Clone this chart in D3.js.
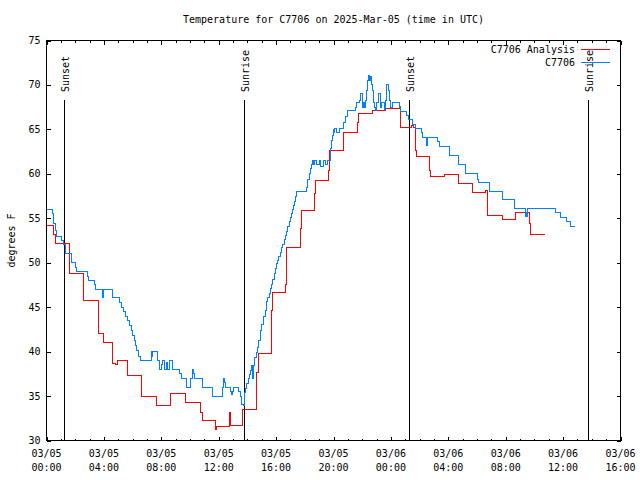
<!DOCTYPE html>
<html><head><meta charset="utf-8">
<script src="https://cdn.jsdelivr.net/npm/d3@7"></script>
<style>
body{margin:0;background:#fff}
svg{display:block}
text{font-family:"DejaVu Sans Mono",monospace;font-size:10px;fill:#000}
</style>
</head><body><svg id="c" width="640" height="480"></svg>
<script>
const title = "Temperature for C7706 on 2025-Mar-05 (time in UTC)";
const yLabel = "degrees F";
const seriesNames = ["C7706 Analysis", "C7706"];
const seriesColors = ["#ff0000", "#0080ff"];

// hours since 2025-03-05 00:00 UTC
const redHours = [0,0.5,0.6,1.58,2.6,3.6,3.95,4.62,4.8,4.95,5.62,6.62,7.65,8.65,9.68,10.72,10.85,11.8,11.88,12.72,12.8,13.68,14.65,14.78,15.65,15.72,16.65,16.75,17.68,17.74,18.68,18.74,19.68,19.75,20.7,21.68,21.75,22.72,23.6,24.68,25.45,25.58,25.7,25.76,26.68,26.78,27.75,28.72,29.67,30.62,30.72,31.75,32.67,33.68,33.74,34.72];
const redTemps = [54.2,53.2,52.2,48.75,45.8,42.0,41.06,38.7,38.55,39.0,37.3,35.0,33.9,35.3,34.3,33.2,32.3,31.2,31.6,33.2,31.7,33.5,37.7,39.8,44.6,46.6,47.5,51.75,53.8,55.9,57.75,59.3,60.4,62.6,64.7,65.8,66.8,67.1,67.3,65.25,65.4,65.25,62.6,62.0,60.4,59.7,59.9,58.9,57.95,58.1,55.3,54.9,55.7,54.4,53.2,53.2];

const blueHours = [0,0.4,0.5,0.6,0.67,1.02,1.15,1.3,1.35,1.72,2.02,2.12,2.88,2.95,3.35,3.4,3.9,4.0,4.6,5.1,5.2,5.4,5.5,5.65,5.78,5.9,6.0,6.1,6.2,6.3,6.42,6.54,7.31,7.36,7.42,7.77,7.9,8.0,8.1,8.2,8.33,8.45,8.57,8.75,9.27,9.4,9.78,10.02,10.15,10.25,10.32,10.85,11.6,12.25,12.35,12.42,12.5,12.82,12.9,12.95,13.05,13.35,13.5,13.6,13.7,13.77,13.85,13.95,14.05,14.15,14.22,14.3,14.35,14.4,14.5,14.6,14.7,14.8,14.9,15.0,15.1,15.25,15.35,15.42,15.52,15.62,15.7,15.78,15.87,15.95,16.03,16.12,16.2,16.3,16.37,16.45,16.57,16.65,16.73,16.82,16.9,16.97,17.05,17.13,17.2,17.27,17.35,17.42,18.1,18.17,18.22,18.3,18.37,18.45,18.55,18.62,18.7,18.85,19.0,19.1,19.3,19.45,19.6,19.82,19.88,19.95,20.0,20.05,20.1,20.2,20.45,20.73,20.85,20.95,21.5,21.62,21.8,21.9,22.05,22.12,22.18,22.24,22.3,22.38,22.46,22.52,22.56,22.62,22.7,22.78,22.85,22.92,23.0,23.15,23.25,23.35,23.55,23.65,23.72,23.8,23.88,24.0,24.1,24.6,24.64,24.7,25.12,25.2,25.5,25.68,26.12,26.2,26.48,26.55,27.22,27.38,28.05,28.68,29.2,30.0,30.1,30.85,31.78,32.58,33.35,33.42,33.48,33.55,35.5,35.8,36.25,36.55,36.8];
const blueTemps = [56.0,55.5,54.4,53.6,53.0,52.5,52.0,51.5,51.0,50.0,49.5,49.0,48.5,48.0,47.5,47.0,46.1,47.0,46.1,45.5,45.0,44.5,44.0,43.5,42.9,42.4,41.8,41.3,40.7,40.1,39.5,39.0,40.0,39.5,40.0,39.0,38.0,38.5,39.0,38.0,38.8,38.0,39.0,38.0,37.5,37.0,36.0,37.0,38.0,37.5,37.0,36.0,35.0,36.0,37.0,36.5,36.0,35.5,35.2,35.5,36.0,35.5,35.0,34.1,33.9,35.4,35.9,36.4,37.0,37.4,37.9,38.4,37.0,38.4,39.3,39.9,40.5,41.3,42.4,43.1,44.0,44.6,45.6,46.1,46.5,47.1,47.6,48.1,48.75,49.3,49.9,50.3,50.7,51.2,51.7,52.1,52.6,53.1,53.55,54.1,54.6,55.05,55.5,56.0,56.4,56.9,57.45,58.0,58.5,59.0,59.4,60.0,60.6,61.05,61.5,61.0,61.5,61.0,61.5,60.8,61.5,61.0,61.5,62.9,63.75,64.3,65.0,64.7,65.1,64.6,65.06,65.8,66.4,67.1,67.5,68.06,68.3,69.0,67.5,68.06,67.5,68.3,69.4,70.5,71.06,70.5,70.9,70.1,69.4,68.06,67.5,67.1,68.06,69.0,67.5,68.06,67.2,68.25,70.0,69.4,68.25,67.5,68.06,67.5,67.6,67.05,66.6,66.08,65.6,65.06,64.7,64.1,63.2,64.05,63.6,63.1,62.06,61.05,60.0,59.4,59.06,58.05,57.1,56.15,55.2,55.6,55.2,56.1,55.6,55.1,54.6,54.1,54.1];

const sunHours = [1.23, 13.77, 25.27, 37.76];
const sunLabels = ["Sunset", "Sunrise", "Sunset", "Sunrise"];

const yTicks = [30,35,40,45,50,55,60,65,70,75];
const xMajorHours = [0,4,8,12,16,20,24,28,32,36,40];
const xTickDates = ["03/05","03/05","03/05","03/05","03/05","03/05","03/06","03/06","03/06","03/06","03/06"];
const xTickTimes = ["00:00","04:00","08:00","12:00","16:00","20:00","00:00","04:00","08:00","12:00","16:00"];
const xMinorHours = d3.range(0, 41);

const L = 46.5, R = 620.5, T = 40.5, B = 440.5;
const svg = d3.select("#c");
const x = d3.scaleLinear().domain([0, 40]).range([L, R]);
const y = d3.scaleLinear().domain([30, 75]).range([B, T]);

// frame
svg.append("rect").attr("x", L).attr("y", T).attr("width", R - L).attr("height", B - T)
  .attr("fill", "none").attr("stroke", "#000").attr("shape-rendering", "crispEdges");

function tickAxis(axis, tx, ty, size) {
  const g = svg.append("g").attr("transform", `translate(${tx},${ty})`)
    .call(axis.tickSizeInner(-size).tickSizeOuter(0).tickFormat(""));
  g.select(".domain").remove();
  g.selectAll("line").attr("shape-rendering", "crispEdges");
  g.selectAll("text").remove();
  return g;
}
tickAxis(d3.axisBottom(x).tickValues(xMinorHours), 0, B, 2);
tickAxis(d3.axisBottom(x).tickValues(xMajorHours), 0, B, 4);
tickAxis(d3.axisTop(x).tickValues(xMinorHours), 0, T, 2);
tickAxis(d3.axisTop(x).tickValues(xMajorHours), 0, T, 4);
tickAxis(d3.axisLeft(y).tickValues(yTicks), L, 0, 4);
tickAxis(d3.axisRight(y).tickValues(yTicks), R, 0, 4);

// y labels
svg.append("g").selectAll("text").data(yTicks).join("text")
  .attr("x", L - 6).attr("y", d => y(d)).attr("dy", "0.35em")
  .attr("text-anchor", "end").text(d => d);

// x labels
const xl = svg.append("g").selectAll("g").data(xMajorHours).join("g");
xl.append("text").attr("x", d => x(d)).attr("y", 453).attr("dy", "0.35em")
  .attr("text-anchor", "middle").text((d, i) => xTickDates[i]);
xl.append("text").attr("x", d => x(d)).attr("y", 467).attr("dy", "0.35em")
  .attr("text-anchor", "middle").text((d, i) => xTickTimes[i]);

// title & y label
svg.append("text").attr("x", (L + R) / 2).attr("y", 19).attr("dy", "0.35em")
  .attr("text-anchor", "middle").text(title);
svg.append("text").attr("transform", `translate(11,${(T + B) / 2}) rotate(-90)`)
  .attr("dy", "0.35em").attr("text-anchor", "middle").text(yLabel);

// sun lines
const sg = svg.append("g");
sg.selectAll("line").data(sunHours).join("line")
  .attr("x1", d => Math.round(x(d)) + 0.5).attr("x2", d => Math.round(x(d)) + 0.5)
  .attr("y1", T + 59).attr("y2", B).attr("stroke", "#000").attr("shape-rendering", "crispEdges");
sg.selectAll("text").data(sunHours).join("text")
  .attr("transform", d => `translate(${Math.round(x(d)) + 1.5},92) rotate(-90)`)
  .attr("dy", "0.35em").attr("text-anchor", "start").text((d, i) => sunLabels[i]);

// series
const line = d3.line().x(d => x(d[0])).y(d => y(d[1])).curve(d3.curveStepAfter);
const redData = d3.zip(redHours, redTemps);
const blueData = d3.zip(blueHours, blueTemps);
svg.append("path").datum(redData).attr("d", line).attr("fill", "none")
  .attr("stroke", seriesColors[0]).attr("stroke-width", 1).attr("shape-rendering", "crispEdges");
svg.append("path").datum(blueData).attr("d", line).attr("fill", "none")
  .attr("stroke", seriesColors[1]).attr("stroke-width", 1).attr("shape-rendering", "crispEdges");

// legend
const lg = svg.append("g");
[0, 1].forEach(i => {
  const ly = 49 + i * 13;
  lg.append("text").attr("x", 575).attr("y", ly).attr("dy", "0.35em")
    .attr("text-anchor", "end").text(seriesNames[i]);
  lg.append("line").attr("x1", 581).attr("x2", 610).attr("y1", ly + 0.5).attr("y2", ly + 0.5)
    .attr("stroke", seriesColors[i]).attr("shape-rendering", "crispEdges");
});
</script>
</body></html>
